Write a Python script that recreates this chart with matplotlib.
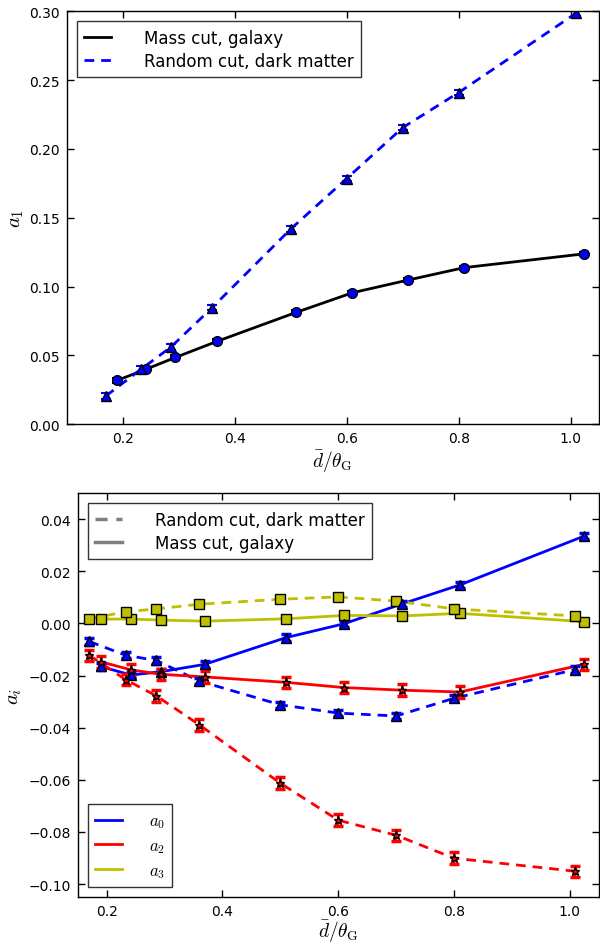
import matplotlib
matplotlib.use("Agg")
import matplotlib.pyplot as plt
from matplotlib.lines import Line2D
import numpy as np

# ---- data ----
x_mass = [0.19, 0.242, 0.294, 0.369, 0.51, 0.61, 0.71, 0.81, 1.024]
x_rand = [0.17, 0.233, 0.286, 0.36, 0.50, 0.60, 0.70, 0.80, 1.009]

a1_mass = [0.0318, 0.0400, 0.0485, 0.0603, 0.0813, 0.0955, 0.1048, 0.1138, 0.1238]
a1_mass_err = [0.0015, 0.0015, 0.0015, 0.0015, 0.0015, 0.0015, 0.0015, 0.0015, 0.0015]
a1_rand = [0.0205, 0.0400, 0.0560, 0.0848, 0.1418, 0.1785, 0.2155, 0.2410, 0.2985]
a1_rand_err = [0.002, 0.002, 0.002, 0.002, 0.002, 0.002, 0.002, 0.002, 0.002]

a0_mass = [-0.0165, -0.0198, -0.0185, -0.0157, -0.0054, -0.0001, 0.0075, 0.0148, 0.0335]
a0_rand = [-0.0069, -0.0122, -0.0142, -0.0221, -0.0312, -0.0344, -0.0355, -0.0287, -0.0177]
a0_err = [0.0012, 0.0012, 0.0012, 0.0012, 0.0012, 0.0012, 0.0012, 0.0012, 0.0012]

a2_mass = [-0.0147, -0.0178, -0.0195, -0.0205, -0.0226, -0.0246, -0.0256, -0.0263, -0.0157]
a2_rand = [-0.0122, -0.0216, -0.0278, -0.0389, -0.0613, -0.0755, -0.0813, -0.0901, -0.0951]
a2_err = [0.0022, 0.0022, 0.0022, 0.0022, 0.0022, 0.0022, 0.0022, 0.0022, 0.0022]

a3_mass = [0.0017, 0.0017, 0.0013, 0.0009, 0.0018, 0.0031, 0.0029, 0.0039, 0.0007]
a3_rand = [0.0018, 0.0045, 0.0056, 0.0074, 0.0093, 0.0102, 0.0086, 0.0056, 0.0029]
a3_err = [0.0005, 0.0005, 0.0005, 0.0005, 0.0005, 0.0005, 0.0005, 0.0005, 0.0005]

top_labels = ["Mass cut, galaxy", "Random cut, dark matter"]
bottom_style_labels = ["Random cut, dark matter", "Mass cut, galaxy"]
coef_labels = [r"$a_0$", r"$a_2$", r"$a_3$"]

plt.rcParams["mathtext.fontset"] = "cm"
plt.rcParams["font.family"] = "DejaVu Sans"
plt.rcParams["axes.unicode_minus"] = True


def fmt(v):
    s = "%.2f" % abs(v)
    return ("\u2212" + s) if v < -1e-9 else s


fig = plt.figure(figsize=(6.0, 9.45), dpi=100)
ax1 = fig.add_axes([0.111, 0.550, 0.887, 0.437])
ax2 = fig.add_axes([0.1295, 0.0497, 0.8685, 0.4273])

for ax in (ax1, ax2):
    ax.tick_params(direction="in", top=True, right=True, length=5, width=1,
                   labelsize=10, pad=5)
    for s in ax.spines.values():
        s.set_linewidth(1.0)

dash = (0, (3.5, 2.5))
leg_kw = dict(fontsize=12, fancybox=False, borderaxespad=0.6,
              handlelength=1.6, handletextpad=2.0, borderpad=0.45)

# ---- top panel ----
ax1.plot(x_mass, a1_mass, color="k", lw=2, ls="-")
ax1.errorbar(x_mass, a1_mass, yerr=a1_mass_err, fmt="o", color="b", ecolor="k",
             mec="k", ms=7, capsize=3.5, elinewidth=1.5, capthick=1.5)
ax1.plot(x_rand, a1_rand, color="b", lw=2, ls=dash)
ax1.errorbar(x_rand, a1_rand, yerr=a1_rand_err, fmt="^", color="b", ecolor="b",
             mec="k", ms=6.5, capsize=3.5, elinewidth=1.5, capthick=1.5)
ax1.set_xlim(0.1, 1.05)
ax1.set_ylim(0.0, 0.30)
ax1.set_xticks([0.2, 0.4, 0.6, 0.8, 1.0])
yt1 = np.arange(0, 0.31, 0.05)
ax1.set_yticks(yt1)
ax1.set_yticklabels([fmt(v) for v in yt1])
ax1.set_ylabel(r"$a_1$", fontsize=15, labelpad=2)
ax1.set_xlabel(r"$\bar{d}/\theta_{\rm G}$", fontsize=14, labelpad=2)
h1 = [Line2D([], [], color="k", lw=2, ls="-"),
      Line2D([], [], color="b", lw=2, ls=dash)]
leg = ax1.legend(h1, top_labels, loc="upper left", labelspacing=0.3, **leg_kw)
leg.get_frame().set_edgecolor("k")
leg.get_frame().set_linewidth(1.0)

# ---- bottom panel ----
ax2.plot(x_mass, a0_mass, color="b", lw=2, ls="-")
ax2.plot(x_rand, a0_rand, color="b", lw=2, ls=dash)
ax2.plot(x_mass, a2_mass, color="r", lw=2, ls="-")
ax2.plot(x_rand, a2_rand, color="r", lw=2, ls=dash)
ax2.plot(x_mass, a3_mass, color="y", lw=2, ls="-")
ax2.plot(x_rand, a3_rand, color="y", lw=2, ls=dash)

for xs, ys in ((x_mass, a3_mass), (x_rand, a3_rand)):
    ax2.errorbar(xs, ys, yerr=a3_err, fmt="s", color="y", ecolor="y", mec="k",
                 ms=6.5, capsize=3, elinewidth=1.5, capthick=2)
for xs, ys in ((x_mass, a0_mass), (x_rand, a0_rand)):
    ax2.errorbar(xs, ys, yerr=a0_err, fmt="^", color="b", ecolor="b", mec="k",
                 ms=6.5, capsize=3.5, elinewidth=1.5, capthick=2.5)
for xs, ys in ((x_mass, a2_mass), (x_rand, a2_rand)):
    ax2.errorbar(xs, ys, yerr=a2_err, fmt="*", color="r", ecolor="r", mec="k",
                 ms=6.5, capsize=3.5, elinewidth=1.5, capthick=2.5)

ax2.set_xlim(0.15, 1.05)
ax2.set_ylim(-0.105, 0.05)
ax2.set_xticks([0.2, 0.4, 0.6, 0.8, 1.0])
yt = np.arange(-0.10, 0.041, 0.02)
ax2.set_yticks(yt)
ax2.set_yticklabels([fmt(v) for v in yt])
ax2.set_ylabel(r"$a_i$", fontsize=15, labelpad=3)
ax2.set_xlabel(r"$\bar{d}/\theta_{\rm G}$", fontsize=14, labelpad=0)

hs = [Line2D([], [], color="0.5", lw=2.5, ls=dash),
      Line2D([], [], color="0.5", lw=2.5, ls="-")]
legA = ax2.legend(hs, bottom_style_labels, loc="upper left", labelspacing=0.3,
                  **leg_kw)
legA.get_frame().set_edgecolor("k")
ax2.add_artist(legA)
hc = [Line2D([], [], color=c, lw=2) for c in ("b", "r", "y")]
legB = ax2.legend(hc, coef_labels, loc="lower left", labelspacing=0.35,
                  fontsize=12, fancybox=False, borderaxespad=0.6,
                  handlelength=1.6, handletextpad=1.6, borderpad=0.45)
legB.get_frame().set_edgecolor("k")

fig.savefig("out.png", dpi=100, facecolor="white")
